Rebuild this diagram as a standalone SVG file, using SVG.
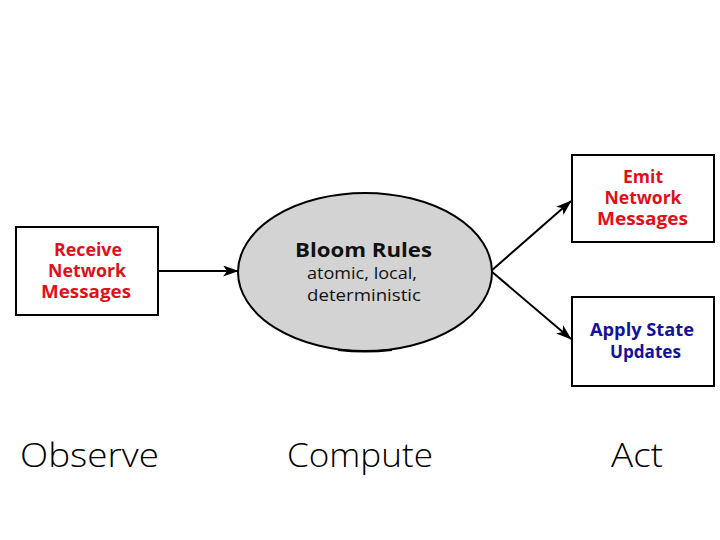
<svg xmlns="http://www.w3.org/2000/svg" width="720" height="540" viewBox="0 0 720 540">
<defs>
<style>
.box{fill:#fff;stroke:#000;stroke-width:2}
.lbl{font-family:"Open Sans",Lato,"Liberation Sans",sans-serif;font-weight:bold;font-size:17.5px;text-anchor:middle}
.red{fill:#e0101a}
.blue{fill:#12129c}
.ell{font-family:"Open Sans",Lato,"Liberation Sans",sans-serif;text-anchor:middle;fill:#111}
.phase{font-family:"Open Sans",Lato,"Liberation Sans",sans-serif;font-weight:300;font-size:33px;fill:#000;text-anchor:middle}
.conn{stroke:#000;stroke-width:2;fill:none;marker-end:url(#arr)}
</style>
<marker id="arr" viewBox="0 0 20 14" refX="19" refY="7" markerWidth="16" markerHeight="11" markerUnits="userSpaceOnUse" orient="auto">
<path d="M0,0 L20,7 L0,14 L5,7 Z" fill="#000"/>
</marker>
</defs>
<rect width="720" height="540" fill="#fff"/>
<g id="connectors">
<line class="conn" x1="158" y1="271" x2="238" y2="271"/>
<line class="conn" x1="491" y1="271" x2="571" y2="201"/>
<line class="conn" x1="491" y1="271" x2="571" y2="339"/>
</g>
<g id="receive">
<rect class="box" x="16" y="227" width="142" height="88"/>
<text class="lbl red" x="88" y="256" textLength="68" lengthAdjust="spacingAndGlyphs">Receive</text>
<text class="lbl red" x="87" y="277" textLength="78" lengthAdjust="spacingAndGlyphs">Network</text>
<text class="lbl red" x="86" y="298" textLength="90" lengthAdjust="spacingAndGlyphs">Messages</text>
</g>
<g id="bloom">
<ellipse cx="365" cy="272" rx="127" ry="79" fill="#d3d3d3" stroke="#000" stroke-width="2"/>
<path d="M338,350 Q365,353 392,350" stroke="#000" stroke-width="2" fill="none"/>
<text class="ell" x="363.5" y="257" font-weight="bold" font-size="20" textLength="137" lengthAdjust="spacingAndGlyphs">Bloom Rules</text>
<text class="ell" x="362" y="279" font-size="17" textLength="110" lengthAdjust="spacingAndGlyphs">atomic, local,</text>
<text class="ell" x="364" y="301" font-size="17" textLength="114" lengthAdjust="spacingAndGlyphs">deterministic</text>
</g>
<g id="emit">
<rect class="box" x="572" y="155" width="142" height="87"/>
<text class="lbl red" x="643" y="183" textLength="40" lengthAdjust="spacingAndGlyphs">Emit</text>
<text class="lbl red" x="643" y="204" textLength="77" lengthAdjust="spacingAndGlyphs">Network</text>
<text class="lbl red" x="642.5" y="225" textLength="91" lengthAdjust="spacingAndGlyphs">Messages</text>
</g>
<g id="apply">
<rect class="box" x="572" y="297" width="142" height="89"/>
<text class="lbl blue" x="642" y="336" textLength="104" lengthAdjust="spacingAndGlyphs">Apply State</text>
<text class="lbl blue" x="645.5" y="358" textLength="71" lengthAdjust="spacingAndGlyphs">Updates</text>
</g>
<g id="phases">
<text class="phase" x="89.5" y="467" textLength="139" lengthAdjust="spacingAndGlyphs">Observe</text>
<text class="phase" x="360" y="467" textLength="146" lengthAdjust="spacingAndGlyphs">Compute</text>
<text class="phase" x="637" y="467" textLength="52" lengthAdjust="spacingAndGlyphs">Act</text>
</g>
</svg>
